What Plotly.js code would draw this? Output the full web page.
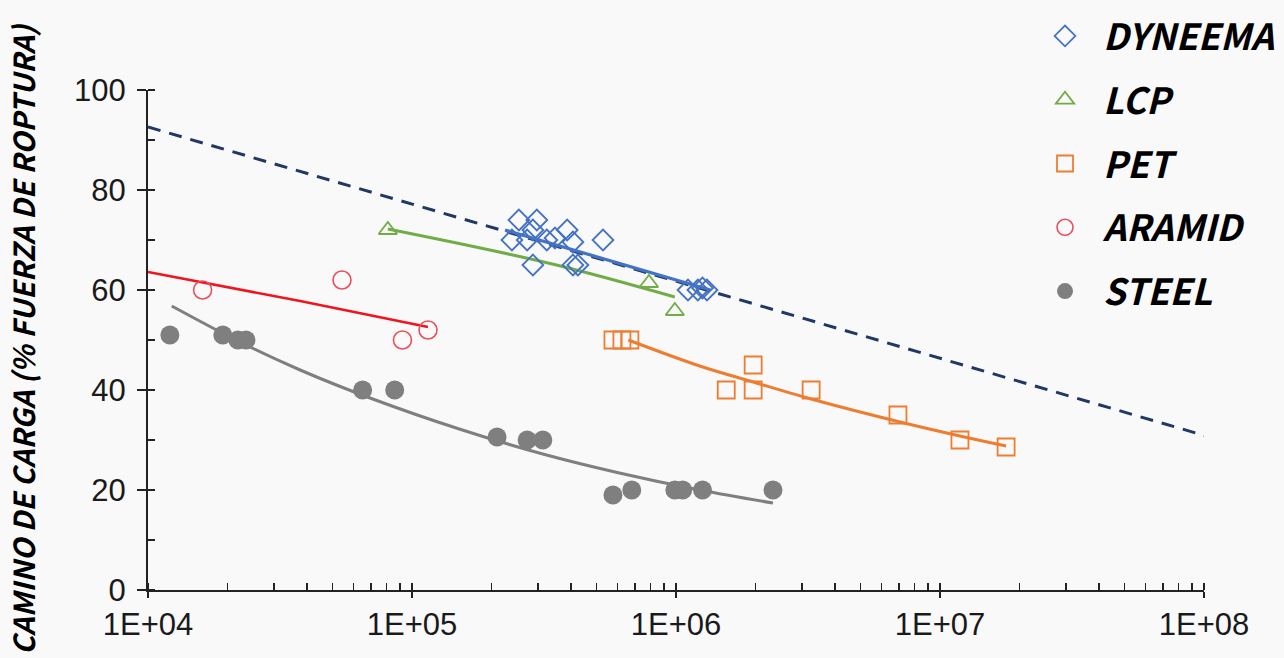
<!DOCTYPE html>
<html>
<head>
<meta charset="utf-8">
<script src="https://cdn.plot.ly/plotly-3.0.1.min.js"></script>
<style>html,body{margin:0;padding:0;background:#f9f9f9;}#chart{width:1284px;height:658px;}</style>
</head>
<body>
<div id="chart"></div>
<script>
// ---- data ----
const dyneemaX = [2.39e5, 2.54e5, 2.73e5, 2.87e5, 2.87e5, 2.97e5, 3.24e5, 3.48e5, 3.87e5, 4.07e5, 4.07e5, 4.25e5, 5.29e5, 1.11e6, 1.21e6, 1.26e6, 1.31e6];
const dyneemaY = [70, 74, 70, 72, 65, 74, 70, 70.4, 72, 69.6, 65, 65, 70, 60, 60, 60.4, 60];
const lcpX = [8.1e4, 7.9e5, 9.9e5];
const lcpY = [72, 61.4, 55.8];
const petX = [5.77e5, 6.24e5, 6.69e5, 1.55e6, 1.96e6, 1.96e6, 3.25e6, 6.93e6, 1.19e7, 1.78e7];
const petY = [50, 50, 50, 40, 45, 40, 40, 35, 30, 28.6];
const aramidX = [1.61e4, 5.43e4, 9.2e4, 1.15e5];
const aramidY = [60, 62, 50, 52];
const steelX = [1.21e4, 1.92e4, 2.19e4, 2.35e4, 6.5e4, 8.6e4, 2.1e5, 2.73e5, 3.13e5, 5.77e5, 6.8e5, 9.9e5, 1.06e6, 1.26e6, 2.33e6];
const steelY = [51, 51, 50, 50, 40, 40, 30.6, 30, 30, 19, 20, 20, 20, 20, 20];

// trend lines
const dyneemaFitX = [2.25e5, 1.35e6];
const dyneemaFitY = [72, 60];
const lcpFitX = [8.1e4, 3.4e5, 9.9e5];
const lcpFitY = [72.2, 65.2, 58.6];
const petFitX = [6.6e5, 1.23e6, 1.96e6, 3.25e6, 6.93e6, 1.19e7, 1.78e7];
const petFitY = [50, 44.8, 41.6, 38.2, 33.7, 30.8, 28.8];
const aramidFitX = [1e4, 3.77e4, 1.15e5];
const aramidFitY = [63.6, 57.8, 52.6];
const steelFitX = [1.23e4, 2.23e4, 3.77e4, 7.1e4, 1.51e5, 3.13e5, 6.1e5, 1.23e6, 2.33e6];
const steelFitY = [56.8, 49.6, 44.0, 38.2, 32.2, 27.2, 23.4, 20.0, 17.4];
const limitX = [1e4, 1.05e8];
const limitY = [92.6, 30.6];

const xTickVals = [1e4, 1e5, 1e6, 1e7, 1e8];
const xTickText = ['1E+04', '1E+05', '1E+06', '1E+07', '1E+08'];
const yTickVals = [0, 20, 40, 60, 80, 100];
const seriesNames = ['DYNEEMA', 'LCP', 'PET', 'ARAMID', 'STEEL'];
const yTitle = 'CAMINO DE CARGA (% FUERZA DE ROPTURA)';

// ---- styles ----
const C = {dy: '#4472C4', lcp: '#70AD47', pet: '#ED7D31', ar: '#E8505B', arLine: '#F0141E', st: '#7F7F7F', dash: '#1F3864'};

function fit(x, y, color, width, dash) {
  return {x: x, y: y, type: 'scatter', mode: 'lines', showlegend: false, hoverinfo: 'skip',
          line: {color: color, width: width, shape: 'spline', dash: dash || 'solid'}};
}
function pts(x, y, name, symbol, color, size, lw) {
  return {x: x, y: y, type: 'scatter', mode: 'markers', name: name, legendgroup: name,
          marker: {symbol: symbol, size: size, color: color, line: {color: color, width: lw}}};
}

const traces = [
  fit(limitX, limitY, C.dash, 3, '13px,9px'),
  fit(aramidFitX, aramidFitY, C.arLine, 2.6),
  fit(steelFitX, steelFitY, C.st, 3),
  fit(lcpFitX, lcpFitY, C.lcp, 3),
  fit(petFitX, petFitY, C.pet, 3),
  pts(dyneemaX, dyneemaY, seriesNames[0], 'diamond-open', C.dy, 16, 1.8),
  pts(lcpX, lcpY, seriesNames[1], 'triangle-up-open', C.lcp, 16, 1.8),
  pts(petX, petY, seriesNames[2], 'square-open', C.pet, 17, 1.8),
  pts(aramidX, aramidY, seriesNames[3], 'circle-open', C.ar, 18, 1.6),
  pts(steelX, steelY, seriesNames[4], 'circle', C.st, 19, 0),
  fit(dyneemaFitX, dyneemaFitY, C.dy, 3.2)
];

const tickFont = {family: 'Liberation Sans, Arial, sans-serif', size: 31, color: '#1a1a1a'};
const boldItalic = {family: 'Noto Sans CJK SC, Lato, sans-serif', weight: 'bold', style: 'italic', color: '#000'};

const layout = {
  width: 1284, height: 658,
  margin: {l: 148, r: 80, t: 90, b: 68, pad: 0, autoexpand: false},
  paper_bgcolor: '#f9f9f9', plot_bgcolor: 'rgba(0,0,0,0)',
  showlegend: true,
  legend: {x: 0.8324, y: 1.168, xanchor: 'left', yanchor: 'top', bgcolor: 'rgba(0,0,0,0)', borderwidth: 0,
           font: Object.assign({size: 36}, boldItalic), itemwidth: 66, traceorder: 'grouped', tracegroupgap: 14},
  xaxis: {type: 'log', range: [4, 8], tickvals: xTickVals, ticktext: xTickText, tickfont: tickFont,
          showgrid: false, zeroline: false, showline: true, linecolor: '#222', linewidth: 2,
          ticks: 'outside', ticklen: 6, tickwidth: 2, tickcolor: '#222', automargin: false,
          minor: {ticks: 'inside', ticklen: 7, tickwidth: 1.5, tickcolor: '#222', dtick: 'D1', showgrid: false}},
  yaxis: {range: [0, 100], tickvals: yTickVals, tickfont: tickFont, showgrid: false, zeroline: false, automargin: false,
          showline: true, linecolor: '#222', linewidth: 2, ticks: 'outside', ticklen: 9, tickwidth: 2, tickcolor: '#222',
          ticklabelstandoff: 5,
          minor: {ticks: 'inside', ticklen: 7, tickwidth: 1.5, tickcolor: '#222', dtick: 10, showgrid: false},
          title: {text: yTitle, font: Object.assign({size: 29}, boldItalic), standoff: 30}}
};

Plotly.newPlot('chart', traces, layout, {displayModeBar: false, staticPlot: true});
</script>
</body>
</html>
